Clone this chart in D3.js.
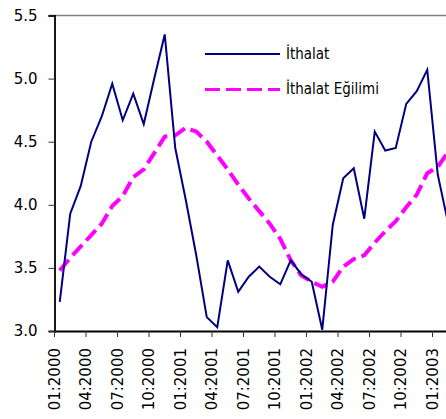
<!DOCTYPE html>
<html>
<head>
<meta charset="utf-8">
<script src="https://cdn.jsdelivr.net/npm/d3@7"></script>
<style>
    body { margin: 0; background: #fff; }
    svg { display: block; }
</style>
</head>
<body>
<svg id="chart" width="446" height="419"></svg>
<script>
// months on the category axis
const months = [
    "01:2000", "02:2000", "03:2000", "04:2000", "05:2000", "06:2000",
    "07:2000", "08:2000", "09:2000", "10:2000", "11:2000", "12:2000",
    "01:2001", "02:2001", "03:2001", "04:2001", "05:2001", "06:2001",
    "07:2001", "08:2001", "09:2001", "10:2001", "11:2001", "12:2001",
    "01:2002", "02:2002", "03:2002", "04:2002", "05:2002", "06:2002",
    "07:2002", "08:2002", "09:2002", "10:2002", "11:2002", "12:2002",
    "01:2003", "02:2003"
];

const tickLabels = ["01:2000", "04:2000", "07:2000", "10:2000", "01:2001", "04:2001",
    "07:2001", "10:2001", "01:2002", "04:2002", "07:2002", "10:2002", "01:2003"];

// İthalat
const ithalat = [
    3.23, 3.93, 4.15, 4.50, 4.70, 4.96, 4.67, 4.88, 4.64, 5.00, 5.35, 4.45,
    4.04, 3.60, 3.11, 3.03, 3.56, 3.31, 3.43, 3.51, 3.43, 3.37, 3.56, 3.45,
    3.39, 3.01, 3.84, 4.21, 4.29, 3.89, 4.58, 4.43, 4.45, 4.80, 4.90, 5.07,
    4.24, 3.85
];

// İthalat Eğilimi
const egilim = [
    3.48, 3.58, 3.67, 3.76, 3.85, 3.99, 4.07, 4.22, 4.28, 4.41, 4.54, 4.55,
    4.61, 4.58, 4.50, 4.39, 4.28, 4.16, 4.05, 3.95, 3.85, 3.73, 3.56, 3.44,
    3.39, 3.35, 3.39, 3.51, 3.57, 3.60, 3.70, 3.79, 3.87, 3.98, 4.08, 4.25,
    4.30, 4.42
];

const yTicks = [3.0, 3.5, 4.0, 4.5, 5.0, 5.5];

const plotLeft = 54.5, plotTop = 15.5, plotBottom = 331, step = 10.5;

const svg = d3.select("#chart");

const x = d3.scaleBand()
    .domain(months)
    .range([plotLeft, plotLeft + months.length * step])
    .paddingInner(0).paddingOuter(0);

const y = d3.scaleLinear().domain([3.0, 5.5]).range([plotBottom, plotTop]);

const cx = (d, i) => x(months[i]) + x.bandwidth() / 2;

// top border
svg.append("line")
    .attr("x1", plotLeft - 6).attr("x2", 446)
    .attr("y1", y(5.5)).attr("y2", y(5.5))
    .attr("stroke", "#808080").attr("stroke-width", 1.5);

// y axis
const yAxis = svg.append("g")
    .attr("transform", `translate(${plotLeft},0)`)
    .call(d3.axisLeft(y).tickValues(yTicks).tickFormat(d3.format(".1f")).tickSize(6).tickPadding(11));
yAxis.select(".domain").attr("stroke", "#000").attr("stroke-width", 1.8);
yAxis.selectAll(".tick line").attr("stroke", "#333");
yAxis.selectAll("text")
    .attr("font-family", "'DejaVu Sans', sans-serif")
    .attr("font-size", 15)
    .attr("fill", "#000");

// x axis
const xAxis = svg.append("g")
    .attr("transform", `translate(0,${plotBottom})`)
    .call(d3.axisBottom(x).tickValues(tickLabels).tickSize(6).tickSizeOuter(0));
xAxis.select(".domain").attr("stroke", "#000").attr("stroke-width", 1.8);
xAxis.selectAll(".tick")
    .attr("transform", d => `translate(${x(d)},0)`);
xAxis.selectAll(".tick line").attr("stroke", "#333");
xAxis.selectAll("text")
    .attr("font-family", "'DejaVu Sans', sans-serif")
    .attr("font-size", 15)
    .attr("fill", "#000")
    .attr("transform", "rotate(-90)")
    .attr("text-anchor", "end")
    .attr("x", -17)
    .attr("y", 0)
    .attr("dy", "0.35em");

const line = d3.line()
    .x(cx)
    .y(d => y(d));

svg.append("path")
    .datum(egilim)
    .attr("d", line)
    .attr("fill", "none")
    .attr("stroke", "#ff00ff")
    .attr("stroke-width", 4)
    .attr("stroke-dasharray", "14,6");

svg.append("path")
    .datum(ithalat)
    .attr("d", line)
    .attr("fill", "none")
    .attr("stroke", "#000080")
    .attr("stroke-width", 2)
    .attr("stroke-linejoin", "miter");

// legend
const legend = [
    {name: "İthalat", color: "#000080", width: 2, dash: null},
    {name: "İthalat Eğilimi", color: "#ff00ff", width: 3, dash: "15,6"}
];

const lg = svg.append("g").attr("transform", "translate(205,54)");
legend.forEach((d, i) => {
    const g = lg.append("g").attr("transform", `translate(0,${i * 35.5})`);
    g.append("line")
        .attr("x1", 0).attr("x2", 75)
        .attr("stroke", d.color)
        .attr("stroke-width", d.width)
        .attr("stroke-dasharray", d.dash);
    g.append("text")
        .attr("x", 81)
        .attr("dy", "0.3em")
        .attr("font-family", "'DejaVu Sans Condensed', 'DejaVu Sans', sans-serif")
        .attr("font-size", 15)
        .attr("fill", "#000")
        .text(d.name);
});
</script>
</body>
</html>
